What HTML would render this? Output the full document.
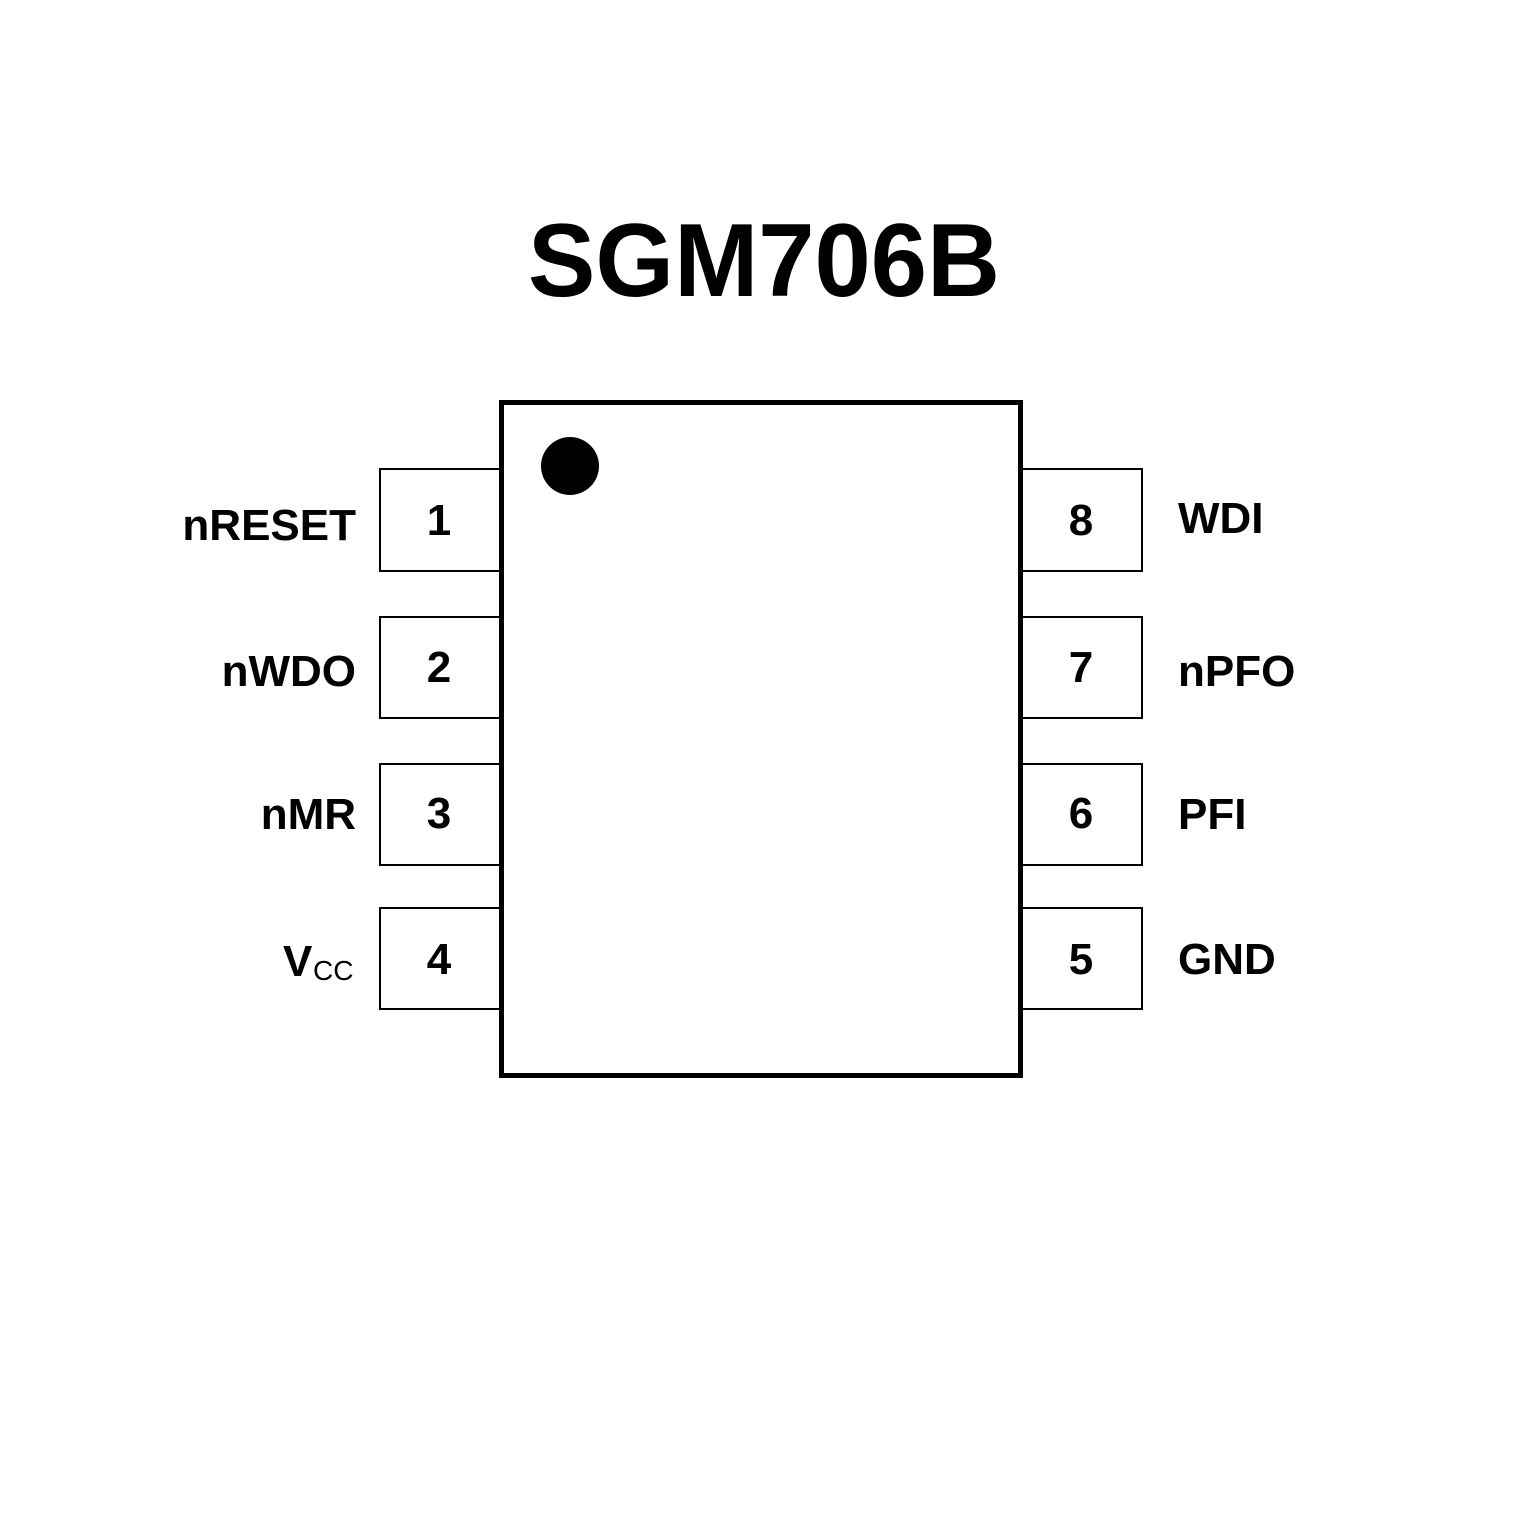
<!DOCTYPE html>
<html><head><meta charset="utf-8"><style>html,body{margin:0;padding:0;background:#fff}svg{display:block}</style></head>
<body>
<svg width="1535" height="1535" viewBox="0 0 1535 1535" xmlns="http://www.w3.org/2000/svg" font-family="Liberation Sans, Arial, sans-serif">
<rect width="1535" height="1535" fill="#fff"/>
<text x="528" y="296" font-size="104" font-weight="bold" textLength="472" lengthAdjust="spacingAndGlyphs">SGM706B</text>
<g fill="none" stroke="#000" stroke-width="2">
<path d="M500 469 H380 V571 H500"/>
<path d="M500 617 H380 V718 H500"/>
<path d="M500 764 H380 V865 H500"/>
<path d="M500 908 H380 V1009 H500"/>
<path d="M1021 469 H1142 V571 H1021"/>
<path d="M1021 617 H1142 V718 H1021"/>
<path d="M1021 764 H1142 V865 H1021"/>
<path d="M1021 908 H1142 V1009 H1021"/>
</g>
<rect x="501.5" y="402.5" width="519" height="673" fill="none" stroke="#000" stroke-width="5"/>
<circle cx="570" cy="466" r="29" fill="#000"/>
<g font-size="44" font-weight="bold" text-anchor="middle">
<text x="439" y="535">1</text>
<text x="439" y="682">2</text>
<text x="439" y="828">3</text>
<text x="439" y="974">4</text>
<text x="1081" y="535">8</text>
<text x="1081" y="682">7</text>
<text x="1081" y="828">6</text>
<text x="1081" y="974">5</text>
</g>
<g font-size="44" font-weight="bold" text-anchor="end">
<text x="356" y="540">nRESET</text>
<text x="356" y="686">nWDO</text>
<text x="356" y="829">nMR</text>
</g>
<text x="283" y="976" font-size="44" font-weight="bold">V</text>
<text x="313" y="980" font-size="28">CC</text>
<g font-size="44" font-weight="bold">
<text x="1178" y="533">WDI</text>
<text x="1178" y="686">nPFO</text>
<text x="1178" y="829">PFI</text>
<text x="1178" y="974">GND</text>
</g>
</svg>
</body></html>
